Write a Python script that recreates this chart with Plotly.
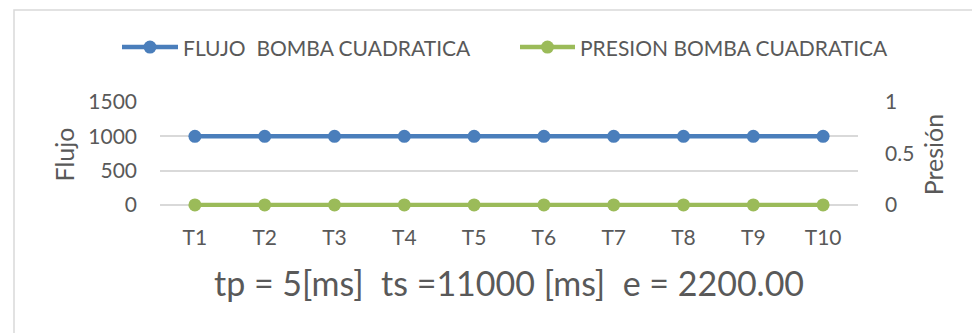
import plotly.graph_objects as go

# Categories and series
periodos = ["T1", "T2", "T3", "T4", "T5", "T6", "T7", "T8", "T9", "T10"]
flujo = [1000, 1000, 1000, 1000, 1000, 1000, 1000, 1000, 1000, 1000]
presion = [0, 0, 0, 0, 0, 0, 0, 0, 0, 0]

flujo_ticks = [0, 500, 1000, 1500]
presion_ticks = [0, 0.5, 1]

nombre_flujo = "FLUJO\u00a0 BOMBA CUADRATICA"
nombre_presion = "PRESION BOMBA CUADRATICA"
titulo = "tp = 5[ms]\u00a0 ts =11000 [ms]\u00a0 e = 2200.00"

AZUL = "#4A7EBB"
VERDE = "#9BBB59"
GRIS = "#595959"
REJILLA = "#D9D9D9"
FUENTE = "Lato, Open Sans, sans-serif"

W, H = 972, 333
# plot area: x 160..858, value 0 at y=205, top value at y=102
X0, X1, Y_TOP, Y_ZERO = 160, 858, 102, 205
# small room below zero so lines at 0 are not cut in half
PAD = 0.02
esc = (Y_ZERO - Y_TOP)  # pixels for the full 0..max span
Y_BOT = Y_ZERO + esc * PAD
ML, MR, MT, MB = X0, W - X1, Y_TOP, H - Y_BOT
pw, ph = W - ML - MR, H - MT - MB


def px_x(x):
    return (x - ML) / pw


def px_y(y):
    return (H - MB - y) / ph


fig = go.Figure()
fig.add_trace(go.Scatter(
    x=periodos, y=flujo, name=nombre_flujo, mode="lines+markers",
    line=dict(color=AZUL, width=4.5), marker=dict(color=AZUL, size=13),
    yaxis="y", showlegend=False, cliponaxis=False,
))
fig.add_trace(go.Scatter(
    x=periodos, y=presion, name=nombre_presion, mode="lines+markers",
    line=dict(color=VERDE, width=4.5), marker=dict(color=VERDE, size=13),
    yaxis="y2", showlegend=False, cliponaxis=False,
))

shapes = [
    # chart frame (left and top edges visible)
    dict(type="rect", xref="paper", yref="paper",
         x0=px_x(14), x1=px_x(W + 20), y0=px_y(H + 20), y1=px_y(10),
         line=dict(color="#D9D9D9", width=1.5), fillcolor="rgba(0,0,0,0)",
         layer="below"),
]
annotations = []

# legend entries
leyenda = [(nombre_flujo, AZUL, 122, 178), (nombre_presion, VERDE, 520, 575)]
for nombre, color, xa, xb in leyenda:
    yl = px_y(47)
    shapes.append(dict(type="line", xref="paper", yref="paper",
                       x0=px_x(xa), x1=px_x(xb), y0=yl, y1=yl,
                       line=dict(color=color, width=4.5)))
    xc = px_x((xa + xb) / 2)
    shapes.append(dict(type="circle", xref="paper", yref="paper",
                       xsizemode="pixel", ysizemode="pixel",
                       xanchor=xc, yanchor=yl,
                       x0=-6.5, x1=6.5, y0=-6.5, y1=6.5,
                       fillcolor=color, line=dict(color=color, width=0)))
    annotations.append(dict(text=nombre, xref="paper", yref="paper",
                            x=px_x(xb + 3), y=yl, xanchor="left", yanchor="middle",
                            showarrow=False,
                            font=dict(family=FUENTE, size=21, color=GRIS)))

# bottom caption
annotations.append(dict(text=titulo, xref="paper", yref="paper",
                        x=0.5, y=px_y(283), xanchor="center", yanchor="middle",
                        showarrow=False,
                        font=dict(family=FUENTE, size=34, color=GRIS)))

fmax = max(flujo_ticks)
pmax = max(presion_ticks)

fig.update_layout(
    width=W, height=H,
    margin=dict(l=ML, r=MR, t=MT, b=MB, autoexpand=False),
    paper_bgcolor="white", plot_bgcolor="white",
    font=dict(family=FUENTE, color=GRIS, size=21),
    showlegend=False,
    xaxis=dict(type="category", range=[-0.5, len(periodos) - 0.5],
               showgrid=False, zeroline=False,
               showline=False, ticks="", tickfont=dict(size=21, color=GRIS),
               ticklabelstandoff=16, automargin=False),
    yaxis=dict(range=[-fmax * PAD, fmax], tickvals=flujo_ticks, showgrid=True,
               gridcolor=REJILLA, gridwidth=1.5, zeroline=False, showline=False,
               ticks="", tickfont=dict(size=21, color=GRIS),
               ticklabelstandoff=22, automargin=False,
               title=dict(text="Flujo", font=dict(size=25, color=GRIS),
                          standoff=6)),
    yaxis2=dict(range=[-pmax * PAD, pmax], tickvals=presion_ticks, overlaying="y",
                side="right", showgrid=False, zeroline=False, showline=False,
                ticks="", tickfont=dict(size=21, color=GRIS),
                ticklabelstandoff=26, automargin=False,
                title=dict(text="Presión", font=dict(size=25, color=GRIS),
                           standoff=12)),
    shapes=shapes,
    annotations=annotations,
)

fig.write_html("out.html")
